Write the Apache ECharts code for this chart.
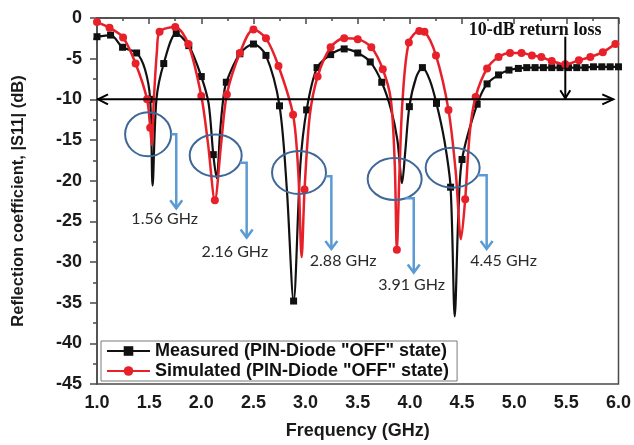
<!DOCTYPE html>
<html><head><meta charset="utf-8">
<script src="https://cdn.jsdelivr.net/npm/echarts@6/dist/echarts.min.js"></script>
<style>html,body{margin:0;padding:0;background:#fff}#c{width:634px;height:445px}</style>
</head><body><div id="c"></div>
<script>
// ---- data ----
const measuredFreq = [1.00,1.13,1.245,1.38,1.46,1.51,1.533,1.57,1.64,1.76,1.88,2.00,2.07,2.115,2.148,2.18,2.21,2.24,2.37,2.50,2.62,2.75,2.82,2.885,2.95,3.01,3.11,3.24,3.37,3.50,3.62,3.73,3.82,3.88,3.925,3.955,3.995,4.06,4.12,4.19,4.255,4.33,4.39,4.43,4.465,4.50,4.645,4.74,4.85,4.95,5.04,5.12,5.20,5.28,5.36,5.44,5.52,5.60,5.68,5.76,5.84,5.92,6.00];
const measuredDb   = [-2.3,-2.1,-3.6,-4.3,-6.3,-10.0,-20.6,-10.0,-5.6,-1.9,-3.4,-7.2,-10.5,-16.8,-19.7,-14.0,-10.0,-7.9,-4.4,-3.2,-4.6,-10.8,-21.0,-34.8,-18.0,-11.3,-6.1,-4.5,-3.8,-4.3,-5.4,-7.9,-11.3,-15.0,-20.3,-16.5,-10.9,-7.3,-6.1,-7.6,-10.5,-15.0,-20.8,-36.7,-24.0,-17.4,-10.6,-8.1,-7.0,-6.4,-6.2,-6.1,-6.1,-6.1,-6.1,-6.1,-6.1,-6.1,-6.1,-6.0,-6.0,-6.0,-6.0];
const measuredMarker = [1,1,1,1,0,1,0,0,1,1,1,1,0,1,0,0,0,1,1,1,1,1,0,1,0,1,1,1,1,1,1,1,0,0,0,0,1,0,1,0,1,0,1,0,0,1,1,1,1,1,1,1,1,1,1,1,1,1,1,1,1,1,1];

const simulatedFreq = [1.00,1.12,1.25,1.37,1.48,1.51,1.525,1.545,1.575,1.60,1.75,1.875,2.00,2.065,2.13,2.19,2.245,2.37,2.50,2.62,2.74,2.88,2.93,2.962,2.99,3.04,3.115,3.24,3.37,3.50,3.63,3.74,3.817,3.855,3.875,3.90,3.93,3.99,4.09,4.14,4.25,4.37,4.44,4.49,4.53,4.575,4.63,4.74,4.85,4.96,5.07,5.17,5.26,5.36,5.49,5.62,5.73,5.85,5.97,6.00];
const simulatedDb   = [-0.5,-1.2,-2.4,-5.6,-10.0,-13.5,-15.6,-10.0,-4.0,-1.7,-1.1,-3.2,-9.6,-15.5,-22.4,-15.5,-9.4,-4.3,-1.4,-2.5,-5.9,-11.9,-19.0,-29.4,-21.1,-12.0,-7.2,-3.6,-2.5,-2.6,-3.6,-6.3,-10.0,-18.0,-28.5,-19.0,-10.0,-3.0,-1.6,-1.7,-4.6,-11.3,-19.0,-27.2,-22.3,-14.0,-9.7,-6.2,-4.8,-4.3,-4.3,-4.6,-4.8,-5.3,-5.7,-5.2,-4.8,-4.2,-3.2,-3.0];
const simulatedMarker = [1,1,1,1,1,1,0,0,0,1,1,1,1,0,1,0,1,1,1,1,1,1,0,0,1,0,1,1,1,1,1,1,0,0,1,0,0,1,1,1,1,1,0,0,1,0,1,1,1,1,1,1,1,1,1,1,1,1,1,0];

const seriesNames = ['Measured (PIN-Diode "OFF" state)', 'Simulated (PIN-Diode "OFF" state)'];
const resonanceLabels = ['1.56 GHz', '2.16 GHz', '2.88 GHz', '3.91 GHz', '4.45 GHz'];
const returnLossDb = -10;
const returnLossLabel = '10-dB return loss';
const xTickFormat = v => v.toFixed(1);

// ---- annotation layout (data coordinates) ----
const circleLayout = [
  {f:1.49,  db:-14.3, rx:23, ry:22,   connDb:-14.3,  connF:1.76,  tipDb:-23.4, labelF:1.649, labelDb:-24.7},
  {f:2.138, db:-16.9, rx:26, ry:21,   connDb:-17.8,  connF:2.435, tipDb:-27.0, labelF:2.321, labelDb:-28.8},
  {f:2.937, db:-19.0, rx:27, ry:21.5, connDb:-19.46, connF:3.247, tipDb:-28.4, labelF:3.36,  labelDb:-29.9},
  {f:3.854, db:-19.8, rx:27, ry:21,   connDb:-22.17, connF:4.037, tipDb:-31.3, labelF:4.017, labelDb:-32.8},
  {f:4.41,  db:-18.4, rx:27, ry:20,   connDb:-19.34, connF:4.736, tipDb:-28.4, labelF:4.898, labelDb:-29.9}
];
const rlLayout = {lineF0:1.0, lineF1:5.95, textF:5.20, textDb:-1.53, arrowF:5.49, arrowTopDb:-2.3};

const SANS = '"Liberation Sans", Arial, sans-serif';
const AX = '#4a4a4a';

function buildData(fs, ds, ms, sym) {
  return fs.map((f, i) => ({value: [f, ds[i]], symbol: ms[i] ? sym : 'none'}));
}

const chart = echarts.init(document.getElementById('c'), null, {renderer: 'canvas'});
chart.setOption({
  animation: false,
  grid: {left: 97, top: 18, width: 523, height: 367, show: true, borderColor: AX, borderWidth: 1.5},
  legend: {
    left: 101, top: 341, orient: 'vertical',
    itemWidth: 43, itemHeight: 12, itemGap: 2,
    padding: [1, 8, 1, 5],
    borderColor: '#7a7a7a', borderWidth: 1, backgroundColor: '#fff',
    textStyle: {fontSize: 18, fontWeight: 'bold', fontFamily: SANS, color: '#111'},
    data: seriesNames
  },
  xAxis: {
    type: 'value', min: 1, max: 6, interval: 0.5,
    name: 'Frequency (GHz)', nameLocation: 'middle', nameGap: 38,
    nameTextStyle: {fontSize: 18, fontWeight: 'bold', fontFamily: SANS, color: '#1a1a1a'},
    axisLine: {lineStyle: {color: AX, width: 1.5}},
    axisTick: {length: 6, lineStyle: {color: AX, width: 1.5}},
    minorTick: {show: true, splitNumber: 2, length: 3, lineStyle: {color: AX, width: 1.5}},
    axisLabel: {formatter: xTickFormat, fontSize: 18, fontWeight: 'bold', fontFamily: SANS, color: '#1a1a1a', margin: 10},
    splitLine: {show: false}
  },
  yAxis: {
    type: 'value', min: -45, max: 0, interval: 5,
    name: 'Reflection coefficient, |S11| (dB)', nameLocation: 'middle', nameGap: 70,
    nameTextStyle: {fontSize: 16.5, fontWeight: 'bold', fontFamily: SANS, color: '#1a1a1a'},
    axisLine: {show: true, lineStyle: {color: AX, width: 1.5}},
    axisTick: {show: true, length: 7, lineStyle: {color: AX, width: 1.5}},
    minorTick: {show: true, splitNumber: 2, length: 4, lineStyle: {color: AX, width: 1.5}},
    axisLabel: {fontSize: 18, fontWeight: 'bold', fontFamily: SANS, color: '#1a1a1a', margin: 15},
    splitLine: {show: false}
  },
  series: [
    {
      name: seriesNames[0], type: 'line', smooth: 0.3,
      data: buildData(measuredFreq, measuredDb, measuredMarker, 'rect'),
      symbol: 'rect', symbolSize: 7, showAllSymbol: true,
      lineStyle: {color: '#111', width: 2.2}, itemStyle: {color: '#111'}, z: 3
    },
    {
      name: seriesNames[1], type: 'line', smooth: 0.3,
      data: buildData(simulatedFreq, simulatedDb, simulatedMarker, 'circle'),
      symbol: 'circle', symbolSize: 8, showAllSymbol: true,
      lineStyle: {color: '#e8202a', width: 2.5}, itemStyle: {color: '#e8202a'}, z: 4
    }
  ]
});

// ---- annotations from data coordinates ----
const px = (f, db) => chart.convertToPixel({gridIndex: 0}, [f, db]);
const g = [];
const BLK = '#000';
const a0 = px(rlLayout.lineF0, returnLossDb), a1 = px(rlLayout.lineF1, returnLossDb);
g.push({type: 'line', z: 100, shape: {x1: a0[0], y1: a0[1], x2: a1[0], y2: a1[1]}, style: {stroke: BLK, lineWidth: 2}});
g.push({type: 'polyline', z: 100, shape: {points: [[a0[0] + 11, a0[1] - 5], [a0[0] + 1, a0[1]], [a0[0] + 11, a0[1] + 5]]}, style: {stroke: BLK, lineWidth: 2, fill: null}});
g.push({type: 'polyline', z: 100, shape: {points: [[a1[0] - 11, a1[1] - 5], [a1[0], a1[1]], [a1[0] - 11, a1[1] + 5]]}, style: {stroke: BLK, lineWidth: 2, fill: null}});
const v0 = px(rlLayout.arrowF, rlLayout.arrowTopDb), v1 = px(rlLayout.arrowF, returnLossDb);
g.push({type: 'line', z: 100, shape: {x1: v0[0], y1: v0[1], x2: v1[0], y2: v1[1] - 1}, style: {stroke: BLK, lineWidth: 2}});
g.push({type: 'polyline', z: 100, shape: {points: [[v1[0] - 5, v1[1] - 9], [v1[0], v1[1] - 1], [v1[0] + 5, v1[1] - 9]]}, style: {stroke: BLK, lineWidth: 2, fill: null}});
const tp = px(rlLayout.textF, rlLayout.textDb);
g.push({type: 'text', z: 100, style: {text: returnLossLabel, x: tp[0], y: tp[1], font: 'bold 18px "Liberation Serif", "Times New Roman", serif', fill: '#111', align: 'center', verticalAlign: 'middle', textAlign: 'center', textVerticalAlign: 'middle'}});

circleLayout.forEach((c, i) => {
  const cp = px(c.f, c.db);
  g.push({type: 'ellipse', z: 101, shape: {cx: cp[0], cy: cp[1], rx: c.rx, ry: c.ry}, style: {fill: null, stroke: '#3f6898', lineWidth: 2}});
  const hy = px(c.connF, c.connDb)[1];
  const dy = (hy - cp[1]) / c.ry;
  const sx = cp[0] + c.rx * Math.sqrt(Math.max(0, 1 - dy * dy));
  const cx = px(c.connF, c.connDb)[0];
  const ty = px(c.connF, c.tipDb)[1];
  g.push({type: 'polyline', z: 101, shape: {points: [[sx, hy], [cx, hy], [cx, ty]]}, style: {stroke: '#5b9bd5', lineWidth: 2.5, fill: null}});
  g.push({type: 'polyline', z: 101, shape: {points: [[cx - 6, ty - 8], [cx, ty], [cx + 6, ty - 8]]}, style: {stroke: '#5b9bd5', lineWidth: 2.5, fill: null}});
  const lp = px(c.labelF, c.labelDb);
  g.push({type: 'text', z: 101, style: {text: resonanceLabels[i], x: lp[0], y: lp[1], font: '16px Lato, "Open Sans", sans-serif', fill: '#2a2a2a', align: 'center', verticalAlign: 'middle', textAlign: 'center', textVerticalAlign: 'middle'}});
});
chart.setOption({graphic: {elements: g}});
</script>
</body></html>
